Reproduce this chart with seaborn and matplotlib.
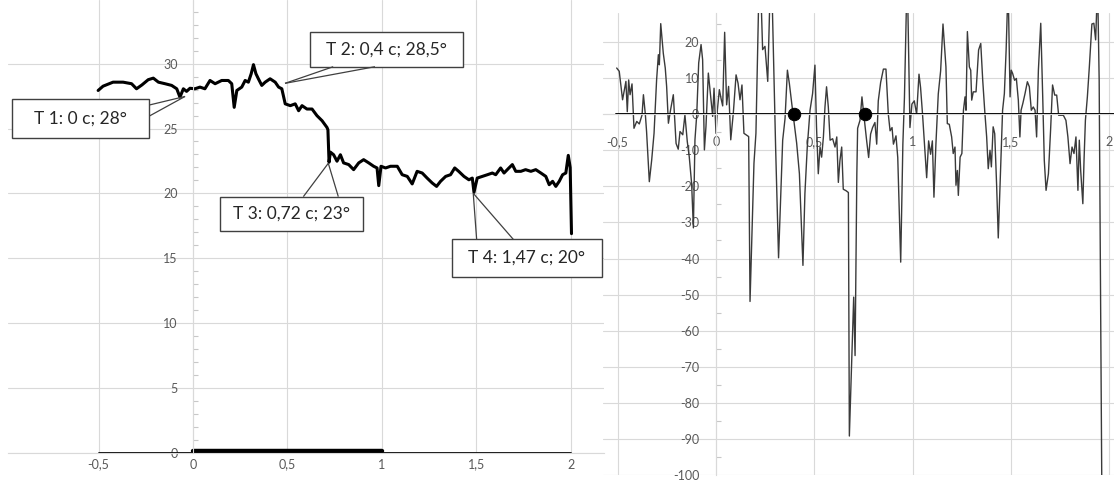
import matplotlib
matplotlib.use("Agg")
import matplotlib.pyplot as plt
from matplotlib.patches import Rectangle
from matplotlib.ticker import MultipleLocator, FuncFormatter
import pandas as pd
import seaborn as sns

# ---- temperature trace (time, s ; temperature, deg) ----
temp_t = [-0.502, -0.476, -0.423, -0.370, -0.325, -0.299, -0.270, -0.237, -0.210, -0.183,
          -0.148, -0.113, -0.086, -0.069, -0.051, -0.034, -0.016, 0.010, 0.037, 0.063,
          0.090, 0.117, 0.152, 0.187, 0.205, 0.218, 0.232, 0.258, 0.276, 0.293,
          0.308, 0.320, 0.333, 0.346, 0.364, 0.382, 0.408, 0.435, 0.453, 0.470,
          0.488, 0.515, 0.541, 0.559, 0.577, 0.603, 0.630, 0.656, 0.683, 0.709,
          0.714, 0.720, 0.727, 0.744, 0.762, 0.780, 0.797, 0.824, 0.850, 0.877,
          0.903, 0.930, 0.956, 0.974, 0.983, 0.995, 1.019, 1.045, 1.081, 1.107,
          1.134, 1.160, 1.186, 1.213, 1.239, 1.266, 1.289, 1.310, 1.337, 1.363,
          1.385, 1.406, 1.434, 1.460, 1.478, 1.487, 1.504, 1.531, 1.558, 1.584,
          1.602, 1.628, 1.646, 1.672, 1.690, 1.708, 1.735, 1.760, 1.788, 1.814,
          1.841, 1.867, 1.885, 1.903, 1.920, 1.938, 1.956, 1.973, 1.986, 1.996,
          2.003]
temp_v = [27.93, 28.26, 28.57, 28.57, 28.45, 28.06, 28.36, 28.76, 28.88, 28.57,
          28.45, 28.32, 28.06, 27.41, 28.06, 27.86, 28.10, 28.06, 28.19, 28.06,
          28.70, 28.45, 28.70, 28.70, 28.45, 26.63, 27.93, 28.19, 28.70, 28.57,
          29.22, 29.92, 29.22, 28.83, 28.32, 28.57, 28.83, 28.57, 28.19, 28.06,
          26.90, 26.76, 26.90, 26.37, 26.76, 26.50, 26.50, 25.99, 25.60, 25.08,
          24.90, 22.40, 23.18, 22.98, 22.48, 22.98, 22.35, 22.22, 21.83, 22.35,
          22.60, 22.35, 22.09, 21.96, 20.60, 22.09, 21.96, 22.09, 22.09, 21.44,
          21.31, 20.73, 21.70, 21.57, 21.18, 20.80, 20.54, 20.93, 21.31, 21.44,
          21.96, 21.70, 21.31, 21.05, 21.18, 20.08, 21.18, 21.31, 21.44, 21.57,
          21.44, 21.96, 21.57, 21.96, 22.22, 21.70, 21.70, 21.83, 21.70, 21.83,
          21.57, 21.31, 20.67, 20.93, 20.54, 20.93, 21.44, 21.57, 22.93, 22.00,
          16.90]

# reference segments along the time axis
base_t = [-0.5, 2.0]
base_v = [0.0, 0.0]
mark_t = [0.0, 1.0]
mark_v = [0.12, 0.12]

# ---- rate of change ----
rate_t = [-0.505, -0.492, -0.475, -0.458, -0.451, -0.444, -0.437, -0.427, -0.417, -0.403,
          -0.390, -0.376, -0.369, -0.359, -0.353, -0.339, -0.327, -0.315, -0.302, -0.293,
          -0.288, -0.281, -0.268, -0.258, -0.251, -0.242, -0.231, -0.217, -0.203, -0.192,
          -0.183, -0.169, -0.158, -0.146, -0.136, -0.124, -0.115, -0.107, -0.098, -0.088,
          -0.076, -0.068, -0.059, -0.051, -0.039, -0.027, -0.017, -0.010, 0.000, 0.007,
          0.017, 0.027, 0.034, 0.044, 0.054, 0.064, 0.075, 0.088, 0.102, 0.112,
          0.122, 0.132, 0.142, 0.153, 0.166, 0.173, 0.193, 0.203, 0.222, 0.237,
          0.249, 0.263, 0.280, 0.303, 0.318, 0.339, 0.351, 0.363, 0.373, 0.385,
          0.410, 0.424, 0.442, 0.452, 0.464, 0.478, 0.491, 0.503, 0.511, 0.520,
          0.529, 0.537, 0.546, 0.554, 0.562, 0.571, 0.580, 0.593, 0.605, 0.614,
          0.622, 0.630, 0.639, 0.647, 0.661, 0.673, 0.678, 0.700, 0.707, 0.716,
          0.720, 0.732, 0.742, 0.749, 0.766, 0.776, 0.786, 0.796, 0.808, 0.817,
          0.825, 0.837, 0.851, 0.864, 0.876, 0.885, 0.895, 0.902, 0.915, 0.924,
          0.939, 0.950, 0.958, 0.972, 0.986, 0.996, 1.008, 1.020, 1.032, 1.040,
          1.050, 1.061, 1.071, 1.081, 1.091, 1.100, 1.108, 1.118, 1.130, 1.142,
          1.154, 1.169, 1.176, 1.186, 1.198, 1.206, 1.215, 1.220, 1.227, 1.232,
          1.241, 1.250, 1.258, 1.266, 1.271, 1.278, 1.288, 1.295, 1.300, 1.308,
          1.322, 1.329, 1.335, 1.346, 1.356, 1.366, 1.376, 1.384, 1.393, 1.400,
          1.409, 1.417, 1.427, 1.435, 1.447, 1.457, 1.466, 1.475, 1.485, 1.495,
          1.501, 1.508, 1.518, 1.527, 1.537, 1.545, 1.551, 1.560, 1.571, 1.583,
          1.593, 1.603, 1.613, 1.622, 1.630, 1.639, 1.651, 1.661, 1.669, 1.678,
          1.690, 1.701, 1.711, 1.722, 1.732, 1.742, 1.755, 1.766, 1.779, 1.789,
          1.800, 1.810, 1.820, 1.830, 1.840, 1.847, 1.854, 1.865, 1.871, 1.878,
          1.888, 1.898, 1.911, 1.921, 1.930, 1.940, 1.948, 1.961]
rate_v = [12.8, 11.9, 4.0, 9.1, 0.7, 9.5, 5.4, 8.4, -3.9, -2.0,
          -2.7, -0.2, 5.4, -0.2, -4.8, -18.7, -12.7, -5.3, 9.5, 16.5,
          13.7, 25.1, 16.9, 12.8, 7.7, -2.5, 1.2, 5.4, -8.1, -9.7,
          -4.8, -5.7, -0.2, -7.6, -11.8, -19.2, -31.5, -7.1, -0.2, 14.2,
          19.3, 15.1, -9.9, -3.4, 11.4, 4.9, -0.6, 7.2, -5.3, 1.2,
          6.8, 4.0, 2.3, 22.7, 2.6, 7.7, -7.1, 0.3, 10.9, 8.6,
          4.0, 8.1, -5.3, -5.7, -6.2, -51.9, -13.6, -5.3, 45.0, 17.9,
          18.8, 9.1, 45.0, -9.0, -39.8, -7.2, -1.2, 12.2, 8.5, 3.0,
          -8.0, -16.5, -41.9, -22.0, -9.1, 1.1, 5.7, 13.6, -3.5, -16.5,
          -9.1, -11.9, -6.3, 2.0, 7.6, 2.0, -7.2, -6.8, -9.1, -6.3,
          -18.9, -12.9, -9.1, -20.8, -21.2, -21.7, -89.2, -50.7, -66.9, -16.5,
          -3.9, -1.7, 4.8, 1.1, -7.4, -12.0, -5.5, -3.7, -2.3, -8.3,
          3.7, 8.8, 12.5, 12.5, 0.0, -4.6, -3.7, -8.3, -6.0, -12.0,
          -41.0, -8.3, 4.6, 40.0, -3.7, 2.8, 3.7, 0.0, 11.1, 7.4,
          0.0, -9.3, -17.6, -7.4, -11.1, -7.4, -23.0, -8.3, 5.6, 12.0,
          25.0, 13.1, -2.6, -2.8, -6.3, -10.9, -9.1, -19.7, -15.6, -22.5,
          -11.9, -10.9, 1.1, 4.8, 1.1, 22.9, 13.1, 12.2, 3.9, 6.2,
          6.2, 12.2, 17.8, 19.6, 9.4, 1.1, -6.3, -15.1, -10.0, -14.6,
          -3.5, -5.4, -20.2, -34.3, -14.6, 1.1, 5.7, 17.8, 36.0, 4.8,
          12.2, 11.3, 9.4, 9.9, 3.9, -6.3, 1.1, 3.0, 5.7, 9.0,
          7.6, 1.1, 2.0, 1.1, -6.3, 12.2, 25.2, 4.8, -12.8, -21.1,
          -16.5, -4.4, 8.1, 5.3, 5.3, -0.3, -0.3, -0.3, -1.7, -6.3,
          -13.7, -9.1, -10.9, -6.3, -21.1, -7.2, -15.6, -24.8, -12.8, -1.7,
          4.8, 13.1, 25.0, 25.2, 20.6, 36.0, 9.4, -100.0]

zero_t = [-0.51, 2.03]
zero_v = [0.0, 0.0]
dot_t = [0.397, 0.757]
dot_v = [0.0, 0.0]

# callout texts
callout_text = ["T 1: 0 c; 28°", "T 2: 0,4 c; 28,5°", "T 3: 0,72 c; 23°", "T 4: 1,47 c; 20°"]

sns.set_theme(style="whitegrid")
plt.rcParams["font.family"] = ["Lato", "DejaVu Sans"]

GRID = "#d9d9d9"
LABEL = "#595959"
W, H = 1114, 487


def px_box(x0, y0, x1, y1):
    return [x0 / W, 1 - y1 / H, (x1 - x0) / W, (y1 - y0) / H]


comma = FuncFormatter(lambda v, _: f"{v:g}".replace(".", ","))

fig = plt.figure(figsize=(W / 100, H / 100), dpi=100)
fig.patch.set_facecolor("white")
ax1 = fig.add_axes(px_box(8, 0, 604, 453))
ax2 = fig.add_axes(px_box(603, 13, 1114, 475))
ax2.patch.set_alpha(0)


def style_axis(ax, xpad, ypad, minor_step):
    ax.grid(True, color=GRID, lw=0.8)
    for side in ("top", "right"):
        ax.spines[side].set_visible(False)
    ax.spines["left"].set_position(("data", 0))
    ax.spines["bottom"].set_position(("data", 0))
    for side in ("left", "bottom"):
        ax.spines[side].set_color(GRID)
        ax.spines[side].set_linewidth(0.8)
    ax.xaxis.set_major_formatter(comma)
    ax.yaxis.set_major_formatter(comma)
    ax.yaxis.set_minor_locator(MultipleLocator(minor_step))
    ax.tick_params(axis="x", length=0, pad=xpad, labelsize=9, labelcolor=LABEL)
    ax.tick_params(axis="y", length=0, pad=ypad, labelsize=9, labelcolor=LABEL)
    ax.tick_params(axis="y", which="minor", left=True, direction="in",
                   length=3.5, width=0.8, color="#c8c8c8")
    ax.set_xlabel("")
    ax.set_ylabel("")


# ---------------- left: temperature ----------------
sns.lineplot(x=base_t, y=base_v, ax=ax1, color="black", lw=1.3, estimator=None)
sns.lineplot(x=mark_t, y=mark_v, ax=ax1, color="black", lw=3.2, estimator=None)
sns.lineplot(x=temp_t, y=temp_v, ax=ax1, color="black", lw=2.2, estimator=None, sort=False)
ax1.set_xlim(-0.979, 2.175)
ax1.set_ylim(0, 34.9)
ax1.set_xticks([-0.5, 0, 0.5, 1, 1.5, 2])
ax1.set_yticks([0, 5, 10, 15, 20, 25, 30])
style_axis(ax1, xpad=4, ypad=11, minor_step=1)

# callout boxes: (box t0, t1, v0, v1), wedge base points, tip
callouts = [
    ((-0.959, -0.231, 24.24, 27.27), [(-0.231, 26.81), (-0.231, 25.96)], (-0.042, 27.47)),
    ((0.619, 1.430, 29.76, 32.46), [(0.742, 29.76), (0.963, 29.76)], (0.487, 28.48)),
    ((0.143, 0.901, 17.13, 19.75), [(0.584, 19.75), (0.769, 19.75)], (0.716, 22.32)),
    ((1.369, 2.164, 13.58, 16.46), [(1.501, 16.46), (1.695, 16.46)], (1.483, 20.01)),
]
for text, (rect, bases, tip) in zip(callout_text, callouts):
    t0, t1, v0, v1 = rect
    ax1.add_patch(Rectangle((t0, v0), t1 - t0, v1 - v0, facecolor="white",
                            edgecolor="#404040", lw=1.0, zorder=6, clip_on=False))
    for bt, bv in bases:
        ax1.plot([bt, tip[0]], [bv, tip[1]], color="#404040", lw=0.9, zorder=6,
                 solid_capstyle="butt")
    ax1.text((t0 + t1) / 2, (v0 + v1) / 2, text, ha="center", va="center",
             fontsize=12.5, color="#262626", zorder=7)

# ---------------- right: rate of change ----------------
sns.lineplot(x=rate_t, y=rate_v, ax=ax2, color="#3a3a3a", lw=1.0, estimator=None, sort=False)
sns.lineplot(x=zero_t, y=zero_v, ax=ax2, color="black", lw=1.4, estimator=None)
sns.scatterplot(x=dot_t, y=dot_v, ax=ax2, color="black", s=80, edgecolor="black",
                zorder=5, legend=False)
ax2.set_xlim(-0.5745, 2.0234)
ax2.set_ylim(-100, 28.05)
ax2.set_xticks([-0.5, 0, 0.5, 1, 1.5, 2])
ax2.set_yticks(list(range(-100, 21, 10)))
style_axis(ax2, xpad=16, ypad=12, minor_step=5)

fig.savefig("out.png", dpi=100, facecolor="white")
